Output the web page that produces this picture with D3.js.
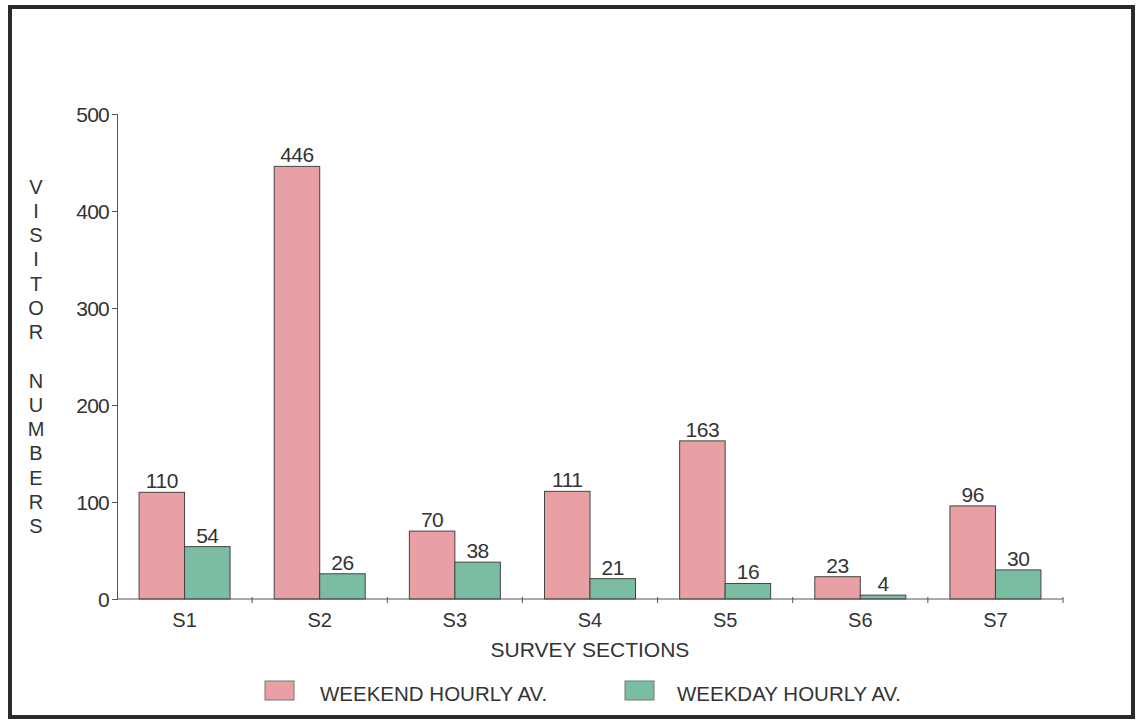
<!DOCTYPE html>
<html>
<head>
<meta charset="utf-8">
<script src="https://cdn.jsdelivr.net/npm/d3@7"></script>
<style>
html,body{margin:0;padding:0;background:#fff;}
svg{display:block;}
text{font-family:"Liberation Sans",Arial,sans-serif;fill:#333;}
</style>
</head>
<body>
<svg id="chart" width="1140" height="723"></svg>
<script>
const categories = ["S1","S2","S3","S4","S5","S6","S7"];
const weekend = [110,446,70,111,163,23,96];
const weekday = [54,26,38,21,16,4,30];
const seriesNames = ["WEEKEND HOURLY AV.","WEEKDAY HOURLY AV."];
const yTicks = [0,100,200,300,400,500];
const yTitle = "VISITOR NUMBERS";
const xTitle = "SURVEY SECTIONS";

(function(){
const colors = ["#e8a0a5","#7bbda3"];
const svg = d3.select("#chart");

// frame
svg.append("rect").attr("x",10).attr("y",7).attr("width",1123).attr("height",710)
  .attr("fill","#fff").attr("stroke","#2a2a2a").attr("stroke-width",4);

const pl=117, pr=1063, pt=114, pb=599;
const x = d3.scaleBand().domain(categories).range([pl,pr]).paddingInner(0).paddingOuter(0);
const y = d3.scaleLinear().domain([0,500]).range([pb,pt]);
const inner = d3.scaleBand().domain([0,1]).range([0, 91]);
const pad = (x.bandwidth()-91)/2;

const data = categories.map((c,i)=>({c, vals:[weekend[i],weekday[i]]}));

const g = svg.append("g");
data.forEach(d=>{
  d.vals.forEach((v,j)=>{
    const bx = x(d.c)+pad+inner(j);
    g.append("rect")
      .attr("x",bx).attr("y",y(v))
      .attr("width",inner.bandwidth()).attr("height",y(0)-y(v))
      .attr("fill",colors[j]).attr("stroke","#444").attr("stroke-width",1);
    g.append("text")
      .attr("x",bx+inner.bandwidth()/2).attr("y",y(v)-4)
      .attr("text-anchor","middle").attr("font-size",21).attr("letter-spacing",-0.5)
      .text(v);
  });
});

// y axis
const yAxis = d3.axisLeft(y).tickValues(yTicks).tickSize(5).tickPadding(3);
const ya = svg.append("g").attr("transform",`translate(${pl},0)`).call(yAxis);
ya.select(".domain").attr("stroke","#555");
ya.selectAll(".tick line").attr("stroke","#555");
ya.selectAll(".tick text").attr("font-size",21).attr("fill","#333").attr("letter-spacing",-0.8)
  .attr("font-family","Liberation Sans, Arial, sans-serif").attr("dy","0.35em");

// x axis
const xa = svg.append("g").attr("transform",`translate(0,${pb})`);
xa.append("line").attr("x1",pl).attr("x2",pr).attr("y1",0).attr("y2",0).attr("stroke","#555");
const bounds = categories.map(c=>x(c)).concat([pr]).slice(1);
xa.selectAll("line.tk").data(bounds).join("line").attr("class","tk")
  .attr("x1",d=>d).attr("x2",d=>d).attr("y1",-2).attr("y2",4).attr("stroke","#555");
xa.selectAll("text.cat").data(categories).join("text").attr("class","cat")
  .attr("x",d=>x(d)+x.bandwidth()/2).attr("y",28)
  .attr("text-anchor","middle").attr("font-size",20).text(d=>d);

// x title
svg.append("text").attr("x",(pl+pr)/2).attr("y",657).attr("text-anchor","middle")
  .attr("font-size",21).text(xTitle);

// y title stacked letters
const letters = yTitle.split("");
svg.append("g").selectAll("text").data(letters).join("text")
  .attr("x",36).attr("y",(d,i)=>186.5+i*24.25+7)
  .attr("text-anchor","middle").attr("font-size",20).text(d=>d);

// legend
const legX = [265,625], legTX=[320,677];
seriesNames.forEach((n,i)=>{
  svg.append("rect").attr("x",legX[i]).attr("y",681).attr("width",29).attr("height",19)
    .attr("fill",colors[i]).attr("stroke","#777").attr("stroke-width",1);
  svg.append("text").attr("x",legTX[i]).attr("y",701).attr("font-size",20.5).text(n);
});
})();
</script>
</body>
</html>
